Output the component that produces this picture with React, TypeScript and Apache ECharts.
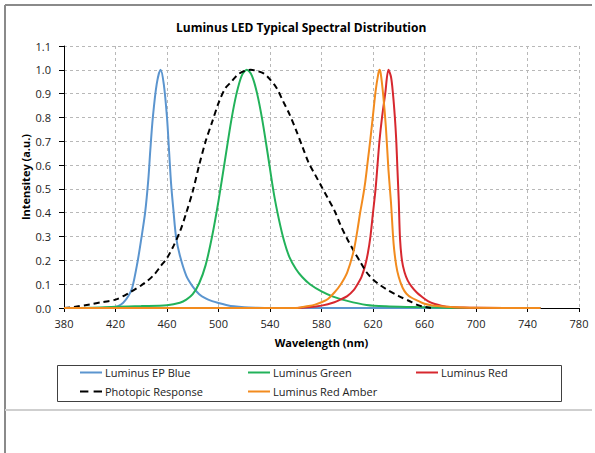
import React, { useEffect, useRef } from "react";
import * as echarts from "echarts";

const titleText = "Luminus LED Typical Spectral Distribution";
const xName = "Wavelength (nm)";
const yName = "Intensitey (a.u.)";
const seriesNames = ["Luminus EP Blue", "Luminus Green", "Luminus Red", "Photopic Response", "Luminus Red Amber"];

const blueWl = [380, 410, 418, 422, 426, 430, 433, 437, 440, 443, 445.5, 447, 449, 452, 455, 457.5, 460, 461.6, 463.2, 465, 467, 470, 475, 480, 485, 490, 495, 500, 506, 512, 520, 530, 540, 750];
const blueVal = [0, 0, 0.002, 0.008, 0.022, 0.05, 0.085, 0.19, 0.29, 0.4, 0.54, 0.66, 0.8, 0.94, 1.0, 0.94, 0.8, 0.66, 0.52, 0.41, 0.3, 0.22, 0.135, 0.09, 0.058, 0.04, 0.029, 0.021, 0.013, 0.007, 0.003, 0.001, 0, 0];

const greenWl = [380, 400, 420, 440, 460, 470, 475, 480, 485, 490, 495, 500, 505, 510, 514, 518, 522, 526, 530, 534, 538, 543, 547, 551, 555, 560, 565, 571, 580, 589, 600, 615, 630, 650, 670, 690, 750];
const greenVal = [0, 0.001, 0.005, 0.008, 0.012, 0.022, 0.035, 0.058, 0.104, 0.18, 0.3, 0.45, 0.62, 0.79, 0.9, 0.975, 1.0, 0.975, 0.9, 0.79, 0.655, 0.48, 0.37, 0.28, 0.215, 0.165, 0.13, 0.1, 0.07, 0.048, 0.03, 0.013, 0.007, 0.004, 0.002, 0, 0];

const redWl = [380, 560, 570, 580, 590, 595, 600, 605, 608, 611, 614, 616, 618, 620, 622, 623.5, 625, 627, 629.5, 632, 634, 635.5, 637, 638, 639, 640, 641, 642.5, 644.5, 647, 650, 654, 658, 663, 668, 673, 680, 690, 700, 750];
const redVal = [0, 0, 0.003, 0.01, 0.024, 0.036, 0.05, 0.075, 0.1, 0.13, 0.18, 0.23, 0.3, 0.4, 0.5, 0.6, 0.7, 0.8, 0.9, 1.0, 0.97, 0.9, 0.8, 0.71, 0.58, 0.45, 0.29, 0.2, 0.15, 0.115, 0.09, 0.065, 0.047, 0.028, 0.017, 0.01, 0.004, 0.002, 0.001, 0];

const photopicWl = [380, 385, 390, 400, 410, 420, 430, 440, 445, 450, 455, 460, 465, 470, 475, 480, 485, 490, 495, 500, 505, 510, 515, 520, 525, 530, 535, 540, 545, 550, 555, 560, 565, 570, 575, 580, 585, 590, 595, 600, 605, 610, 615, 620, 625, 630, 640, 650, 655, 660, 665];
const photopicVal = [0, 0.002, 0.006, 0.015, 0.025, 0.035, 0.062, 0.095, 0.115, 0.14, 0.175, 0.21, 0.26, 0.32, 0.4, 0.49, 0.6, 0.7, 0.78, 0.86, 0.92, 0.95, 0.98, 0.995, 1.0, 0.995, 0.985, 0.96, 0.925, 0.87, 0.815, 0.75, 0.68, 0.61, 0.56, 0.51, 0.46, 0.41, 0.345, 0.29, 0.24, 0.195, 0.15, 0.12, 0.098, 0.08, 0.05, 0.025, 0.012, 0.005, 0];

const amberWl = [380, 560, 565, 570, 575, 580, 585, 590, 595, 600, 605, 608, 610, 612, 614, 616, 618, 620, 622, 624, 625, 626, 628, 630, 632, 634, 636, 638, 640, 643, 646, 650, 655, 660, 665, 670, 680, 690, 700, 750];
const amberVal = [0, 0, 0.004, 0.008, 0.014, 0.024, 0.038, 0.065, 0.1, 0.15, 0.24, 0.33, 0.4, 0.46, 0.53, 0.62, 0.71, 0.81, 0.91, 0.98, 1.0, 0.985, 0.89, 0.76, 0.58, 0.44, 0.27, 0.18, 0.13, 0.085, 0.06, 0.043, 0.03, 0.018, 0.012, 0.008, 0.004, 0.002, 0.001, 0];

const xTicksMin = 380;
const xTicksMax = 780;
const xTickStep = 40;
const yTicksMin = 0;
const yTicksMax = 1.1;
const yTickStep = 0.1;

const zip = (xs: number[], ys: number[]) => xs.map((x, i) => [x, ys[i]]);

const FONT = "'Open Sans', Lato, sans-serif";
const SOLID_ICON = "path://M0,0H22V2H0Z";
const DASH_ICON = "path://M0,0H8V2H0Z M13,0H21V2H13Z";

export default function App() {
  const ref = useRef<HTMLDivElement>(null);
  useEffect(() => {
    if (!ref.current) return;
    const chart = echarts.init(ref.current, undefined, { renderer: "svg" });
    const colors = ["#5b95cf", "#22b25a", "#d7282f", "#000000", "#f28b1e"];
    const datas = [
      zip(blueWl, blueVal),
      zip(greenWl, greenVal),
      zip(redWl, redVal),
      zip(photopicWl, photopicVal),
      zip(amberWl, amberVal),
    ];
    const legendPos = [
      { left: 80, top: 367 },
      { left: 248, top: 367 },
      { left: 416, top: 367 },
      { left: 80, top: 386 },
      { left: 248, top: 386 },
    ];
    chart.setOption({
      animation: false,
      backgroundColor: "#ffffff",
      textStyle: { fontFamily: FONT },
      title: {
        text: titleText,
        left: 171,
        top: 16,
        textStyle: { fontSize: 12, fontWeight: "bold", color: "#000", fontFamily: FONT },
      },
      grid: { left: 64, right: 16, top: 46, bottom: 145, containLabel: false },
      legend: seriesNames.map((n, i) => ({
        data: [{ name: n, icon: i === 3 ? DASH_ICON : SOLID_ICON }],
        left: legendPos[i].left,
        top: legendPos[i].top,
        itemWidth: 22,
        itemHeight: 2,
        symbolKeepAspect: false,
        padding: 0,
        itemStyle: { color: colors[i] },
        textStyle: { fontSize: 11, color: "#222", fontFamily: FONT, padding: [0, 0, 0, -2] },
      })),
      xAxis: {
        type: "value",
        min: xTicksMin,
        max: xTicksMax,
        interval: xTickStep,
        name: xName,
        nameLocation: "middle",
        nameGap: 29,
        nameMoveOverlap: false,
        nameTextStyle: { fontSize: 11, fontWeight: "bold", color: "#000", fontFamily: FONT },
        axisLine: { onZero: false, lineStyle: { color: "#000", width: 1 } },
        axisTick: { show: true, length: 4, lineStyle: { color: "#000" } },
        axisLabel: { fontSize: 11, color: "#222", margin: 10, fontFamily: FONT },
        splitLine: { show: true, lineStyle: { color: "#b8b8b8", type: [3, 3], width: 1 } },
      },
      yAxis: {
        type: "value",
        min: yTicksMin,
        max: yTicksMax,
        interval: yTickStep,
        name: yName,
        nameLocation: "middle",
        nameRotate: 90,
        nameGap: 33,
        nameMoveOverlap: false,
        nameTextStyle: { fontSize: 11, fontWeight: "bold", color: "#000", fontFamily: FONT },
        axisLine: { show: true, lineStyle: { color: "#000", width: 1 } },
        axisTick: { show: true, length: 5, lineStyle: { color: "#000" } },
        axisLabel: { fontSize: 11, color: "#222", margin: 13, fontFamily: FONT, formatter: (v: number) => v.toFixed(1) },
        splitLine: { show: true, lineStyle: { color: "#b8b8b8", type: [3, 3], width: 1 } },
      },
      series: seriesNames.map((n, i) => ({
        name: n,
        type: "line",
        data: datas[i],
        showSymbol: false,
        symbol: "none",
        smooth: 0.3,
        color: colors[i],
        lineStyle: { color: colors[i], width: 2, type: i === 3 ? [6, 4] : "solid" },
        z: 2 + i,
      })),
      graphic: [
        { type: "line", shape: { x1: 5, y1: 5, x2: 592, y2: 5 }, style: { stroke: "#8a8a8a", lineWidth: 2 } },
        { type: "line", shape: { x1: 5, y1: 5, x2: 5, y2: 453 }, style: { stroke: "#8a8a8a", lineWidth: 2 } },
        { type: "line", shape: { x1: 5, y1: 410, x2: 592, y2: 410 }, style: { stroke: "#cfcfcf", lineWidth: 2 } },
        { type: "rect", shape: { x: 57.5, y: 365.5, width: 504, height: 36 }, style: { stroke: "#404040", fill: "none", lineWidth: 1 } },
      ],
    });
    return () => chart.dispose();
  }, []);
  return <div ref={ref} style={{ position: "fixed", left: 0, top: 0, width: 595, height: 453 }} />;
}
